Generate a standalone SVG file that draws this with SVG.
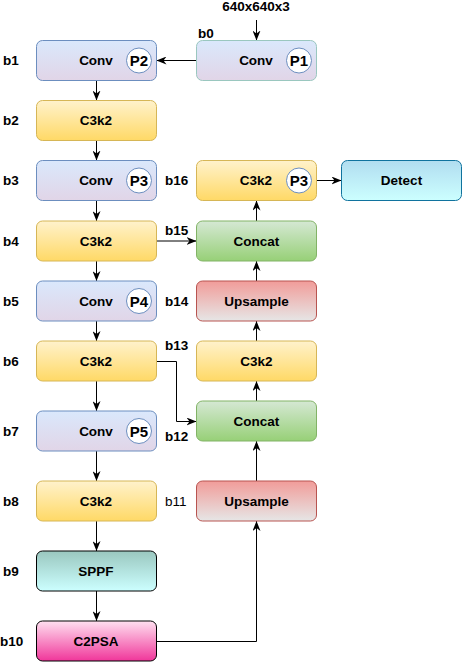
<svg xmlns="http://www.w3.org/2000/svg" width="462" height="662" viewBox="0 0 462 662">
<defs>
<linearGradient id="gConv" x1="0" y1="0" x2="0" y2="1"><stop offset="0" stop-color="#dae8fc"/><stop offset="1" stop-color="#e1d5e7"/></linearGradient>
<linearGradient id="gC3" x1="0" y1="0" x2="0" y2="1"><stop offset="0" stop-color="#fff2cc"/><stop offset="1" stop-color="#ffd966"/></linearGradient>
<linearGradient id="gCat" x1="0" y1="0" x2="0" y2="1"><stop offset="0" stop-color="#d5e8d4"/><stop offset="1" stop-color="#97d077"/></linearGradient>
<linearGradient id="gUp" x1="0" y1="0" x2="0" y2="1"><stop offset="0" stop-color="#f19c99"/><stop offset="1" stop-color="#e6e6e6"/></linearGradient>
<linearGradient id="gDet" x1="0" y1="0" x2="0" y2="1"><stop offset="0" stop-color="#b1ddf0"/><stop offset="1" stop-color="#ccffff"/></linearGradient>
<linearGradient id="gSPPF" x1="0" y1="0" x2="0" y2="1"><stop offset="0" stop-color="#9ac7bf"/><stop offset="1" stop-color="#ccffff"/></linearGradient>
<linearGradient id="gPSA" x1="0" y1="0" x2="0" y2="1"><stop offset="0" stop-color="#ffe0f0"/><stop offset="1" stop-color="#f0369a"/></linearGradient>
<marker id="arr" viewBox="0 0 10 8" refX="10" refY="4" markerWidth="10" markerHeight="8" markerUnits="userSpaceOnUse" orient="auto">
<path d="M0,0 L10,4 L0,8 L3,4 z" fill="#000"/>
</marker>
</defs>
<style>
text{font-family:"Liberation Sans",Arial,sans-serif;font-weight:bold;fill:#000}
.t{font-size:13.5px;text-anchor:middle}
.lb{font-size:13.5px}
.p{font-size:15px;text-anchor:middle}
.circ{fill:#fff;stroke:#6c8ebf;stroke-width:1}
.conv{fill:url(#gConv);stroke:#6c8ebf}
.c3{fill:url(#gC3);stroke:#d6b656}
.cat{fill:url(#gCat);stroke:#82b366}
.up{fill:url(#gUp);stroke:#b85450}
.det{fill:url(#gDet);stroke:#10739e}
.sppf{fill:url(#gSPPF);stroke:#000}
.psa{fill:url(#gPSA);stroke:#000}
.e{fill:none;stroke:#000;stroke-width:1;marker-end:url(#arr)}
</style>
<rect width="462" height="662" fill="#fff"/>
<g id="connectors">
<path class="e" d="M256.5,20 V40.5"/>
<path class="e" d="M196.5,60.5 H156.5"/>
<path class="e" d="M96.5,80.5 V100.5"/>
<path class="e" d="M96.5,140.5 V160.5"/>
<path class="e" d="M96.5,200.5 V221"/>
<path class="e" d="M96.5,261 V281"/>
<path class="e" d="M96.5,321 V341"/>
<path class="e" d="M96.5,381 V411"/>
<path class="e" d="M96.5,451 V481"/>
<path class="e" d="M96.5,521 V551"/>
<path class="e" d="M96.5,591 V621"/>
<path class="e" d="M156.5,241 H196.5"/>
<path class="e" d="M156.5,361.5 H176.5 V421.5 H196.5"/>
<path class="e" d="M156.5,641.5 H256.5 V521"/>
<path class="e" d="M256.5,481 V441"/>
<path class="e" d="M256.5,401 V381"/>
<path class="e" d="M256.5,341 V321"/>
<path class="e" d="M256.5,281 V261"/>
<path class="e" d="M256.5,221 V200.5"/>
<path class="e" d="M316.5,180.5 H341.5"/>
</g>
<text class="t" x="256" y="11">640x640x3</text>
<g id="b0"><rect x="196.5" y="40.5" width="120" height="40" rx="6" fill="url(#gConv)" stroke="#9ac7bf"/><text class="lb" x="198" y="38">b0</text><text class="t" x="256" y="65">Conv</text><circle class="circ" cx="299" cy="60.5" r="12.5"/><text class="p" x="299" y="66">P1</text></g>
<g id="b1"><rect class="conv" x="36.5" y="40.5" width="120" height="40" rx="6"/><text class="lb" x="3" y="65">b1</text><text class="t" x="96" y="65">Conv</text><circle class="circ" cx="139" cy="60.5" r="12.5"/><text class="p" x="139" y="66">P2</text></g>
<g id="b2"><rect class="c3" x="36.5" y="100.5" width="120" height="40" rx="6"/><text class="lb" x="3" y="125">b2</text><text class="t" x="96" y="125">C3k2</text></g>
<g id="b3"><rect class="conv" x="36.5" y="160.5" width="120" height="40" rx="6"/><text class="lb" x="3" y="185">b3</text><text class="t" x="96" y="185">Conv</text><circle class="circ" cx="139" cy="180.5" r="12.5"/><text class="p" x="139" y="186">P3</text></g>
<g id="b4"><rect class="c3" x="36.5" y="221" width="120" height="40" rx="6"/><text class="lb" x="3" y="246">b4</text><text class="t" x="96" y="246">C3k2</text></g>
<g id="b5"><rect class="conv" x="36.5" y="281" width="120" height="40" rx="6"/><text class="lb" x="3" y="306">b5</text><text class="t" x="96" y="306">Conv</text><circle class="circ" cx="139" cy="301" r="12.5"/><text class="p" x="139" y="306.5">P4</text></g>
<g id="b6"><rect class="c3" x="36.5" y="341" width="120" height="40" rx="6"/><text class="lb" x="3" y="366">b6</text><text class="t" x="96" y="366">C3k2</text></g>
<g id="b7"><rect class="conv" x="36.5" y="411" width="120" height="40" rx="6"/><text class="lb" x="3" y="436">b7</text><text class="t" x="96" y="436">Conv</text><circle class="circ" cx="139" cy="431" r="12.5"/><text class="p" x="139" y="436.5">P5</text></g>
<g id="b8"><rect class="c3" x="36.5" y="481" width="120" height="40" rx="6"/><text class="lb" x="3" y="506">b8</text><text class="t" x="96" y="506">C3k2</text></g>
<g id="b9"><rect class="sppf" x="36.5" y="551" width="120" height="40" rx="6"/><text class="lb" x="3" y="576">b9</text><text class="t" x="96" y="576">SPPF</text></g>
<g id="b10"><rect class="psa" x="36.5" y="621" width="120" height="40" rx="6"/><text class="lb" x="0" y="646">b10</text><text class="t" x="96" y="646">C2PSA</text></g>
<g id="b11"><rect class="up" x="196.5" y="481" width="120" height="40" rx="6"/><text class="lb" x="165" y="506" style="font-weight:normal">b11</text><text class="t" x="256.5" y="506">Upsample</text></g>
<g id="b12"><rect class="cat" x="196.5" y="401" width="120" height="40" rx="6"/><text class="lb" x="165" y="440.5">b12</text><text class="t" x="256.5" y="426">Concat</text></g>
<g id="b13"><rect class="c3" x="196.5" y="341" width="120" height="40" rx="6"/><text class="lb" x="165" y="350">b13</text><text class="t" x="256.5" y="366">C3k2</text></g>
<g id="b14"><rect class="up" x="196.5" y="281" width="120" height="40" rx="6"/><text class="lb" x="165" y="306">b14</text><text class="t" x="256.5" y="306">Upsample</text></g>
<g id="b15"><rect class="cat" x="196.5" y="221" width="120" height="40" rx="6"/><text class="lb" x="165" y="235">b15</text><text class="t" x="256.5" y="246">Concat</text></g>
<g id="b16"><rect class="c3" x="196.5" y="160.5" width="120" height="40" rx="6"/><text class="lb" x="165" y="185">b16</text><text class="t" x="256" y="185">C3k2</text><circle class="circ" cx="299" cy="180.5" r="12.5"/><text class="p" x="299" y="186">P3</text></g>
<g id="detect"><rect class="det" x="341.5" y="160.5" width="120" height="40" rx="6"/><text class="t" x="401.5" y="185">Detect</text></g>
</svg>
